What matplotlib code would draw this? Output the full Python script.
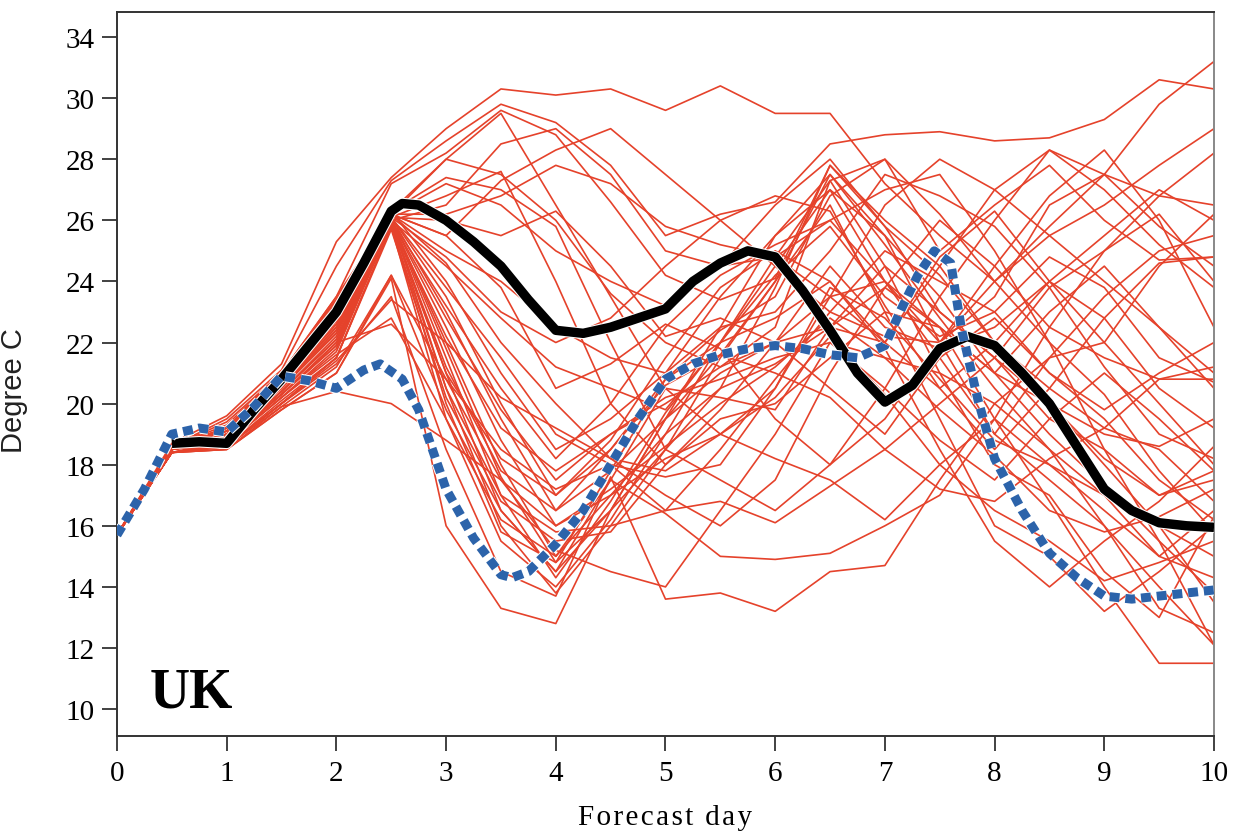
import numpy as np
import matplotlib
matplotlib.use("Agg")
import matplotlib.pyplot as plt
import matplotlib.patheffects as pe

# forecast days for the ensemble members (every 12 h)
days = [0, 0.5, 1, 1.5, 2, 2.5, 3, 3.5, 4, 4.5, 5, 5.5, 6, 6.5, 7, 7.5, 8, 8.5, 9, 9.5, 10]

members = [
    [15.7, 18.7, 19.6, 21.3, 25.3, 27.4, 29.0, 30.3, 30.1, 30.3, 29.6, 30.4, 29.5, 29.5, 27.2, 25.5, 24.0, 25.8, 27.5, 29.8, 31.2],
    [15.7, 18.6, 19.5, 21.1, 24.5, 27.3, 28.6, 29.8, 29.2, 27.8, 25.5, 26.2, 26.6, 28.5, 28.8, 28.9, 28.6, 28.7, 29.3, 30.6, 30.3],
    [15.7, 18.6, 19.4, 21.0, 23.5, 27.2, 28.2, 29.6, 28.8, 26.6, 24.2, 23.4, 24.1, 27.8, 25.8, 23.0, 21.5, 23.8, 25.0, 26.8, 28.2],
    [15.7, 18.5, 19.2, 20.9, 23.2, 26.3, 28.0, 27.5, 26.0, 23.6, 22.0, 21.2, 22.5, 27.3, 28.0, 25.0, 26.5, 27.8, 26.0, 24.7, 24.8],
    [15.7, 18.5, 19.1, 20.8, 22.8, 26.2, 25.5, 27.3, 28.3, 29.0, 27.5, 26.0, 24.5, 23.0, 22.2, 22.0, 24.5, 26.8, 28.3, 26.0, 22.5],
    [15.7, 18.6, 19.3, 21.0, 23.3, 26.2, 24.6, 22.0, 20.0, 18.2, 17.0, 16.0, 17.5, 21.0, 23.8, 26.0, 24.5, 22.5, 21.5, 20.8, 20.8],
    [15.7, 18.5, 19.0, 20.6, 22.5, 26.1, 23.0, 19.5, 16.5, 17.8, 19.5, 21.6, 24.0, 27.5, 25.5, 22.0, 19.0, 17.5, 16.0, 14.0, 12.1],
    [15.7, 18.5, 19.0, 20.7, 22.7, 26.0, 22.0, 18.0, 15.0, 17.0, 19.0, 20.5, 21.3, 22.5, 22.0, 24.8, 26.3, 24.0, 22.0, 24.5, 26.2],
    [15.7, 18.6, 19.2, 20.9, 23.0, 26.0, 21.5, 17.0, 14.3, 16.8, 19.7, 22.0, 24.5, 27.0, 24.0, 21.5, 19.0, 21.5, 23.5, 25.0, 25.5],
    [15.7, 18.4, 18.8, 20.3, 22.0, 26.0, 21.0, 16.5, 14.5, 17.5, 20.5, 20.2, 19.8, 22.5, 24.5, 23.0, 21.5, 19.5, 18.5, 17.0, 17.8],
    [15.7, 18.4, 18.7, 20.2, 21.8, 25.9, 20.0, 15.8, 14.8, 16.5, 18.5, 20.5, 23.8, 27.8, 26.0, 24.5, 22.0, 20.0, 18.0, 16.0, 13.5],
    [15.7, 18.5, 18.9, 20.6, 22.3, 26.0, 22.5, 18.8, 16.0, 17.0, 18.2, 19.0, 20.5, 23.5, 26.5, 28.0, 27.0, 25.5, 24.0, 22.5, 21.0],
    [15.7, 18.5, 19.0, 20.8, 22.9, 26.3, 24.0, 21.0, 18.5, 19.5, 21.0, 22.5, 23.0, 25.0, 27.5, 26.8, 25.8, 23.8, 21.2, 19.0, 18.2],
    [15.7, 18.6, 19.1, 21.0, 23.4, 26.2, 25.0, 24.0, 22.5, 21.5, 21.0, 23.5, 25.5, 27.0, 25.5, 23.5, 21.0, 19.0, 17.3, 15.5, 13.8],
    [15.7, 18.5, 18.9, 20.5, 22.4, 26.1, 23.5, 20.0, 17.0, 18.5, 20.8, 22.0, 22.8, 24.0, 22.0, 20.5, 22.0, 24.0, 25.5, 27.0, 26.0],
    [15.7, 18.4, 18.6, 20.0, 21.5, 25.8, 19.5, 15.5, 14.0, 16.2, 19.0, 22.0, 24.8, 27.3, 24.5, 21.0, 18.0, 17.0, 14.5, 13.0, 16.3],
    [15.7, 18.5, 18.8, 20.4, 22.1, 26.0, 20.5, 16.0, 13.8, 16.0, 18.5, 21.5, 24.0, 26.5, 23.0, 19.5, 16.0, 15.0, 13.2, 14.5, 16.0],
    [15.7, 18.4, 18.5, 19.9, 21.2, 24.2, 20.8, 17.5, 15.2, 14.5, 14.0, 16.5, 19.0, 22.0, 21.5, 21.0, 20.0, 21.5, 22.0, 20.0, 18.0],
    [15.7, 18.4, 18.5, 19.8, 21.0, 24.1, 16.0, 13.3, 12.8, 16.5, 19.5, 21.0, 22.0, 23.5, 24.0, 22.5, 21.0, 23.0, 24.5, 22.5, 20.5],
    [15.7, 18.4, 18.6, 20.0, 21.3, 23.5, 18.5, 14.5, 13.7, 17.6, 13.6, 13.8, 13.2, 14.5, 14.7, 17.5, 20.0, 18.5, 17.0, 15.0, 16.5],
    [15.7, 18.5, 18.7, 20.2, 21.6, 22.8, 19.5, 16.2, 15.0, 17.5, 16.4, 15.0, 14.9, 15.1, 16.0, 17.0, 19.5, 22.5, 25.0, 26.2, 24.0],
    [15.7, 18.5, 18.8, 20.3, 22.0, 22.6, 20.8, 18.5, 17.2, 18.0, 16.5, 16.8, 16.1, 17.3, 18.5, 20.0, 21.5, 20.0, 18.2, 17.0, 17.5],
    [15.7, 18.4, 18.6, 19.9, 20.4, 20.0, 18.8, 17.5, 16.0, 17.2, 18.6, 20.0, 21.2, 22.8, 21.5, 19.8, 18.3, 16.5, 15.8, 16.3, 17.2],
    [15.7, 18.5, 18.9, 20.5, 22.3, 26.0, 26.5, 28.5, 29.0, 27.5, 25.0, 24.5, 24.8, 26.0, 24.0, 22.0, 23.5, 26.5, 27.5, 26.8, 26.5],
    [15.7, 18.5, 19.0, 20.7, 22.6, 26.2, 27.2, 26.5, 25.0, 24.0, 23.2, 24.5, 26.5, 28.0, 25.8, 24.2, 22.0, 20.5, 19.2, 18.5, 16.8],
    [15.7, 18.6, 19.2, 20.9, 23.1, 26.1, 26.0, 25.5, 26.3, 24.5, 22.2, 22.8, 22.0, 20.5, 19.0, 21.5, 22.8, 21.0, 19.8, 21.0, 22.0],
    [15.7, 18.5, 18.9, 20.6, 22.4, 26.0, 24.5, 22.8, 21.2, 20.5, 19.8, 22.0, 24.2, 25.8, 23.5, 22.2, 23.0, 24.8, 23.8, 21.5, 20.7],
    [15.7, 18.4, 18.7, 20.2, 21.7, 25.9, 22.2, 19.2, 17.8, 19.0, 20.2, 20.8, 21.5, 22.0, 20.5, 18.8, 17.5, 19.5, 21.0, 19.5, 17.8],
    [15.7, 18.5, 18.8, 20.4, 22.2, 26.0, 21.8, 17.6, 14.8, 17.8, 20.8, 22.4, 23.5, 26.8, 28.0, 26.2, 24.0, 22.0, 20.3, 17.8, 15.8],
    [15.7, 18.4, 18.6, 20.0, 21.5, 25.7, 20.2, 16.8, 15.5, 15.8, 18.0, 19.5, 20.0, 21.5, 23.0, 22.5, 19.5, 16.8, 14.0, 11.5, 11.5],
    [15.7, 18.5, 18.9, 20.6, 22.5, 26.1, 23.8, 21.5, 19.0, 18.0, 17.6, 18.0, 20.5, 23.8, 22.8, 20.8, 18.8, 18.0, 17.0, 16.0, 15.0],
    [15.7, 18.6, 19.1, 20.9, 23.2, 26.2, 25.5, 23.8, 20.5, 21.3, 22.6, 21.8, 19.5, 18.0, 19.5, 22.0, 24.0, 25.5, 26.5, 27.8, 29.0],
    [15.7, 18.5, 18.8, 20.3, 21.9, 25.9, 21.0, 18.2, 17.0, 18.8, 21.5, 23.8, 25.0, 24.0, 21.8, 18.5, 15.5, 14.0, 15.5, 16.8, 18.6],
    [15.7, 18.4, 18.5, 19.8, 21.0, 24.2, 19.8, 16.5, 14.5, 16.5, 19.5, 22.5, 25.5, 27.5, 25.2, 22.8, 20.5, 18.5, 16.0, 13.3, 12.5],
    [15.7, 18.5, 18.9, 20.6, 22.7, 26.3, 27.4, 27.0, 25.8, 22.0, 18.5, 17.5, 16.5, 18.0, 20.5, 23.5, 26.0, 28.3, 27.5, 25.8, 24.5],
    [15.7, 18.6, 19.2, 21.0, 23.5, 26.2, 28.0, 29.5, 26.5, 23.5, 20.5, 19.0, 18.2, 17.5, 16.2, 18.0, 19.5, 18.0, 16.5, 15.0, 14.3],
    [15.7, 18.5, 19.0, 20.8, 22.9, 26.1, 26.8, 27.6, 24.0, 20.0, 18.0, 19.8, 22.0, 24.5, 22.5, 21.8, 22.5, 24.0, 22.8, 20.5, 19.2],
    [15.7, 18.4, 18.6, 20.1, 21.5, 25.8, 20.5, 17.0, 15.8, 16.0, 16.5, 18.5, 20.8, 23.0, 25.0, 24.0, 23.0, 21.0, 19.5, 17.5, 16.2],
    [15.7, 18.5, 18.7, 20.3, 21.9, 26.0, 22.8, 19.8, 17.5, 19.0, 20.0, 21.2, 22.0, 22.5, 23.8, 22.5, 21.0, 20.0, 19.0, 18.6, 19.5],
    [15.7, 18.6, 19.1, 20.9, 23.2, 26.1, 24.8, 23.0, 22.0, 22.8, 24.5, 26.0, 26.8, 26.3, 23.2, 20.5, 18.5, 20.5, 22.8, 24.6, 24.8],
    [15.7, 18.5, 18.8, 20.4, 22.1, 25.9, 21.2, 17.8, 16.5, 18.5, 20.6, 21.6, 21.0, 20.2, 18.5, 17.2, 16.8, 18.2, 19.2, 20.8, 21.2],
    [15.7, 18.4, 18.6, 20.0, 21.4, 23.4, 22.0, 20.2, 19.2, 18.2, 17.8, 19.0, 20.2, 22.2, 20.3, 18.0, 16.5, 15.5, 14.2, 14.8, 15.5],
    [15.7, 18.5, 18.9, 20.6, 22.6, 26.0, 23.2, 20.5, 18.2, 20.0, 22.5, 24.2, 25.2, 26.0, 27.0, 27.5, 25.0, 22.0, 18.5, 15.5, 12.1],
    [15.7, 18.6, 19.2, 21.0, 23.4, 26.2, 26.2, 26.8, 27.8, 27.2, 25.8, 25.2, 24.8, 23.5, 22.0, 24.5, 27.0, 28.3, 27.0, 25.2, 23.8],
]

# thick black curve (starts at half a day, under the blue line before that)
black_x = [0.5, 0.75, 1, 1.25, 1.5, 1.75, 2, 2.25, 2.5, 2.6, 2.75, 3, 3.25, 3.5, 3.75, 4, 4.25, 4.5, 4.75, 5,
           5.25, 5.5, 5.75, 6, 6.25, 6.5, 6.75, 7, 7.25, 7.5, 7.75, 8, 8.25, 8.5, 8.75, 9, 9.25, 9.5, 9.75, 10]
black_y = [18.7, 18.75, 18.7, 19.8, 20.8, 21.9, 23.0, 24.6, 26.3, 26.55, 26.5, 26.0, 25.3, 24.5, 23.4, 22.4, 22.3, 22.5, 22.8, 23.1,
           24.0, 24.6, 25.0, 24.8, 23.7, 22.4, 21.0, 20.05, 20.6, 21.8, 22.2, 21.9, 21.0, 20.0, 18.6, 17.2, 16.5, 16.1, 16.0, 15.95]

# blue dashed curve
blue_x = [0, 0.25, 0.5, 0.75, 1, 1.25, 1.5, 1.75, 2, 2.25, 2.4, 2.6, 2.75, 3, 3.25, 3.5, 3.6, 3.75, 4, 4.25, 4.5, 4.75,
          5, 5.25, 5.5, 5.75, 6, 6.25, 6.5, 6.75, 7, 7.15, 7.3, 7.45, 7.6, 7.7, 7.85, 8, 8.25, 8.5, 8.75, 9, 9.25, 9.5, 9.75, 10]
blue_y = [15.7, 17.2, 19.0, 19.2, 19.07, 19.9, 20.9, 20.75, 20.5, 21.1, 21.3, 20.8, 19.8, 17.2, 15.6, 14.4, 14.3, 14.5, 15.4, 16.5, 18.0, 19.5,
          20.8, 21.3, 21.6, 21.8, 21.9, 21.8, 21.6, 21.5, 21.9, 23.1, 24.2, 25.0, 24.6, 22.4, 20.1, 18.2, 16.5, 15.1, 14.3, 13.7, 13.6, 13.7, 13.8, 13.9]

ytick_vals = [10, 12, 14, 16, 18, 20, 22, 24, 26, 28, 30, 32]
ytick_labels = ["10", "12", "14", "16", "18", "20", "22", "24", "26", "28", "30", "34"]
xtick_vals = list(range(0, 11))

serif = ["Liberation Serif", "DejaVu Serif"]

fig = plt.figure(figsize=(12.34, 8.37), dpi=100)
ax = fig.add_axes([0.0948, 0.1195, 0.889, 0.865])

for m in members:
    ax.plot(days, m, color="#E5422B", lw=1.2, zorder=2)

ax.plot(black_x, black_y, color="black", lw=6.8, solid_joinstyle="round", solid_capstyle="butt", zorder=3,
        path_effects=[pe.Stroke(linewidth=8.3, foreground="white"), pe.Normal()])

ax.plot(blue_x, blue_y, color="#2C63AA", lw=6.5, dashes=(1.1, 0.65), dash_capstyle="butt", zorder=4,
        path_effects=[pe.Stroke(linewidth=8, foreground="white"), pe.Normal()])

ax.text(0.3, 10.07, "UK", fontsize=40, fontweight="bold", family=serif, ha="left", va="baseline", zorder=5)

ax.set_xlim(0, 10)
ax.set_ylim(9.12, 32.82)
ax.set_xticks(xtick_vals)
ax.set_xticklabels([str(v) for v in xtick_vals], family=serif, fontsize=21)
ax.set_yticks(ytick_vals)
ax.set_yticklabels(ytick_labels, family=serif, fontsize=21)
ax.tick_params(axis="y", direction="out", length=11, width=1.3, color="#333333", pad=5)
ax.tick_params(axis="x", direction="out", length=11, width=1.3, color="#333333", pad=6)

for side in ["left", "bottom", "top"]:
    ax.spines[side].set_color("#333333")
    ax.spines[side].set_linewidth(1.4)
ax.spines["right"].set_color("#888888")
ax.spines["right"].set_linewidth(1.4)

ax.set_xlabel("\u200a".join("Forecast day"), family=serif, fontsize=21)
ax.xaxis.set_label_coords(0.5, -0.094)
ax.set_ylabel("Degree C", family=["Liberation Sans", "DejaVu Sans"], fontsize=21, color="#222222")
ax.yaxis.set_label_coords(-0.081, 0.479)

fig.savefig("out.png", dpi=100)
